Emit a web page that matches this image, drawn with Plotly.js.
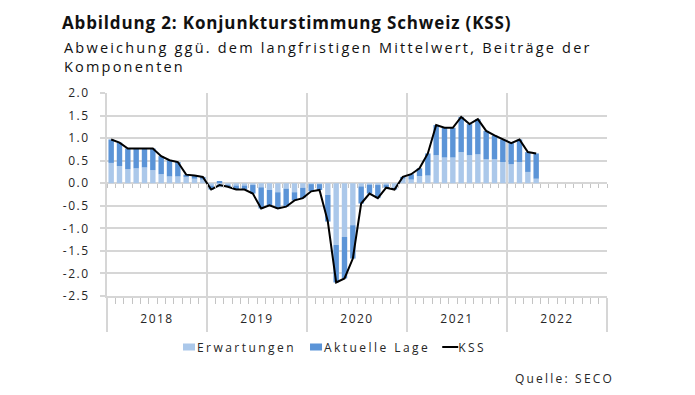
<!DOCTYPE html>
<html>
<head>
<meta charset="utf-8">
<script src="https://cdn.plot.ly/plotly-3.0.1.min.js"></script>
<style>
  html, body { margin: 0; padding: 0; background: #fff; }
  #chart { width: 695px; height: 395px; }
  text.legendtext { letter-spacing: 2.45px; }
  .annotation-text { letter-spacing: 2.2px; }
  .gtitle { letter-spacing: 0.85px; }
  .xtick text, .x2tick text, .ytick text { letter-spacing: 1.5px; }
</style>
</head>
<body>
<div id="chart"></div>
<script>
// Months (Jan 2018 – Apr 2022)
const months = [
  '2018-01','2018-02','2018-03','2018-04','2018-05','2018-06','2018-07','2018-08','2018-09','2018-10','2018-11','2018-12',
  '2019-01','2019-02','2019-03','2019-04','2019-05','2019-06','2019-07','2019-08','2019-09','2019-10','2019-11','2019-12',
  '2020-01','2020-02','2020-03','2020-04','2020-05','2020-06','2020-07','2020-08','2020-09','2020-10','2020-11','2020-12',
  '2021-01','2021-02','2021-03','2021-04','2021-05','2021-06','2021-07','2021-08','2021-09','2021-10','2021-11','2021-12',
  '2022-01','2022-02','2022-03','2022-04'
];
const years = ['2018','2019','2020','2021','2022'];

// Beitrag Erwartungen
const erwartungen = [
  0.45, 0.38, 0.31, 0.33, 0.35, 0.29, 0.20, 0.15, 0.15, 0.14, 0.10, 0.08,
  -0.05, -0.09, -0.03, -0.05, -0.05, -0.04, -0.09, -0.15, -0.20, -0.12, -0.20, -0.10,
  -0.02, -0.02, -0.26, -1.37, -1.19, -0.93, -0.07, -0.03, -0.04, -0.03, -0.10, 0.10,
  0.08, 0.16, 0.17, 0.62, 0.57, 0.57, 0.69, 0.62, 0.64, 0.53, 0.53, 0.47,
  0.42, 0.47, 0.25, 0.10
];
// Beitrag Aktuelle Lage
const aktuelleLage = [
  0.52, 0.52, 0.46, 0.44, 0.42, 0.48, 0.40, 0.36, 0.32, 0.05, 0.07, 0.06,
  -0.09, 0.05, -0.05, -0.09, -0.09, -0.19, -0.47, -0.34, -0.36, -0.40, -0.18, -0.23,
  -0.16, -0.13, -0.59, -0.83, -0.92, -0.74, -0.38, -0.20, -0.29, -0.07, -0.04, 0.04,
  0.12, 0.17, 0.49, 0.67, 0.66, 0.66, 0.78, 0.69, 0.78, 0.63, 0.53, 0.50,
  0.47, 0.50, 0.44, 0.56
];
// KSS
const kss = [
  0.97, 0.90, 0.77, 0.77, 0.77, 0.77, 0.60, 0.51, 0.47, 0.19, 0.17, 0.14,
  -0.14, -0.04, -0.08, -0.14, -0.14, -0.23, -0.56, -0.49, -0.56, -0.52, -0.38, -0.33,
  -0.18, -0.15, -0.85, -2.20, -2.11, -1.67, -0.45, -0.23, -0.33, -0.10, -0.14, 0.14,
  0.20, 0.33, 0.66, 1.29, 1.23, 1.23, 1.47, 1.31, 1.42, 1.16, 1.06, 0.97,
  0.89, 0.97, 0.69, 0.66
];
const yTickVals = [2.0, 1.5, 1.0, 0.5, 0.0, -0.5, -1.0, -1.5, -2.0, -2.5];
const yTickText = ['2.0','1.5','1.0','0.5','0.0','-0.5','-1.0','-1.5','-2.0','-2.5'];

// index positions derived from the category arrays
const nAxisMonths = years.length * 12;
const xIdx = months.map((m, i) => i);
const yearBounds = years.map((y, i) => i * 12 - 0.5).concat([nAxisMonths - 0.5]);
const yearCenters = years.map((y, i) => i * 12 + 5.5);
const monthBounds = [];
for (let i = 0; i <= nAxisMonths; i++) monthBounds.push(i - 0.5);

const FONT = '"Open Sans", "Noto Sans", sans-serif';
const GRID = '#d6d6d6';
const TXT = '#262626';

const traces = [
  { type: 'bar', name: 'Erwartungen', x: xIdx, y: erwartungen,
    marker: { color: '#abc8ea', line: { width: 0 } }, hoverinfo: 'skip' },
  { type: 'bar', name: 'Aktuelle Lage', x: xIdx, y: aktuelleLage,
    marker: { color: '#5b94d7', line: { width: 0 } }, hoverinfo: 'skip' },
  { type: 'scatter', mode: 'lines', name: 'KSS', x: xIdx, y: kss,
    line: { color: '#000000', width: 2 }, hoverinfo: 'skip' },
  // invisible helpers to activate extra x axes
  { type: 'scatter', mode: 'markers', x: [0], y: [0], xaxis: 'x2', showlegend: false,
    marker: { opacity: 0 }, hoverinfo: 'skip' },
  { type: 'scatter', mode: 'markers', x: [0], y: [0], xaxis: 'x3', showlegend: false,
    marker: { opacity: 0 }, hoverinfo: 'skip' }
];

const layout = {
  width: 695, height: 395,
  margin: { l: 107, r: 88, t: 93, b: 99 },
  paper_bgcolor: '#ffffff', plot_bgcolor: '#ffffff',
  font: { family: FONT, color: TXT, size: 12 },
  barmode: 'relative',
  bargap: 0.35,
  showlegend: true,
  title: {
    text: '<b>Abbildung 2: Konjunkturstimmung Schweiz (KSS)</b>',
    xref: 'container', yref: 'container',
    x: 62 / 695, xanchor: 'left',
    y: 1 - 23 / 395, yanchor: 'middle',
    font: { family: FONT, size: 17, color: '#111111' }
  },
  annotations: [
    { text: 'Abweichung ggü. dem langfristigen Mittelwert, Beiträge der<br>Komponenten',
      xref: 'paper', yref: 'paper', x: (62 - 107) / 500, y: (296 - 36) / 203,
      xanchor: 'left', yanchor: 'top', align: 'left', showarrow: false,
      font: { family: FONT, size: 14.5, color: '#111111' } },
    { text: 'Quelle: SECO',
      xref: 'paper', yref: 'paper', x: (616 - 107) / 500, y: (296 - 378) / 203,
      xanchor: 'right', yanchor: 'middle', showarrow: false,
      font: { family: FONT, size: 12, color: TXT } }
  ],
  legend: {
    orientation: 'h', x: (169 - 107) / 500, xanchor: 'left',
    y: (296 - 347) / 203, yanchor: 'middle',
    font: { family: FONT, size: 12, color: TXT },
    traceorder: 'normal', itemwidth: 30, itemclick: false, itemdoubleclick: false,
    bgcolor: 'rgba(0,0,0,0)'
  },
  xaxis: {
    range: [-0.5, nAxisMonths - 0.5], fixedrange: true,
    tickmode: 'array', tickvals: yearBounds, showticklabels: false,
    ticks: 'outside', ticklen: 34, tickwidth: 2, tickcolor: GRID,
    showgrid: true, gridcolor: GRID, gridwidth: 2,
    showline: true, linecolor: GRID, linewidth: 2,
    zeroline: false,
    minor: { tickmode: 'array', tickvals: monthBounds, ticks: 'outside',
             ticklen: 6, tickwidth: 1, tickcolor: '#c4c4c4', showgrid: false }
  },
  xaxis2: {
    overlaying: 'x', anchor: 'y', side: 'bottom',
    range: [-0.5, nAxisMonths - 0.5], fixedrange: true,
    tickmode: 'array', tickvals: yearCenters, ticktext: years,
    ticks: '', showgrid: false, showline: false, zeroline: false,
    ticklabelstandoff: 14,
    tickfont: { family: FONT, size: 12, color: TXT }
  },
  xaxis3: {
    overlaying: 'x', anchor: 'free', position: 2.5 / 4.5,
    range: [-0.5, nAxisMonths - 0.5], fixedrange: true,
    tickmode: 'array', tickvals: monthBounds, showticklabels: false,
    ticks: 'outside', ticklen: 4, tickwidth: 1, tickcolor: '#c4c4c4',
    showgrid: false, showline: false, zeroline: false
  },
  yaxis: {
    range: [-2.5, 2.0], fixedrange: true,
    tickmode: 'array', tickvals: yTickVals, ticktext: yTickText,
    ticks: 'outside', ticklen: 5, tickwidth: 2, tickcolor: GRID,
    showgrid: true, gridcolor: GRID, gridwidth: 2,
    zeroline: true, zerolinecolor: GRID, zerolinewidth: 2,
    showline: true, linecolor: GRID, linewidth: 2,
    ticklabelstandoff: 8,
    tickfont: { family: FONT, size: 12, color: TXT }
  }
};

Plotly.newPlot('chart', traces, layout, { displayModeBar: false, staticPlot: true }).then(function (gd) {
  // Compact legend items (Excel-style: short swatch close to its label)
  const TEXT_SHIFT = 12;
  const ITEM_SHIFT = 17;
  const items = gd.querySelectorAll('.legend .traces');
  items.forEach(function (g, k) {
    const t = g.querySelector('text.legendtext');
    if (t) t.setAttribute('x', (parseFloat(t.getAttribute('x')) || 40) - TEXT_SHIFT);
    const tr = g.getAttribute('transform') || '';
    const m = tr.match(/translate\(\s*([-\d.]+)[ ,]+([-\d.]+)\s*\)/);
    if (m) g.setAttribute('transform', 'translate(' + (parseFloat(m[1]) - ITEM_SHIFT * k) + ',' + m[2] + ')');
    g.querySelectorAll('path.legendbar, .legendpoints path').forEach(function (p) {
      p.setAttribute('d', 'M6,3.5H-6V-3.5H6Z');
    });
    g.querySelectorAll('path.js-line').forEach(function (p) {
      p.setAttribute('d', 'M12,0h16');
    });
  });
});
</script>
</body>
</html>
